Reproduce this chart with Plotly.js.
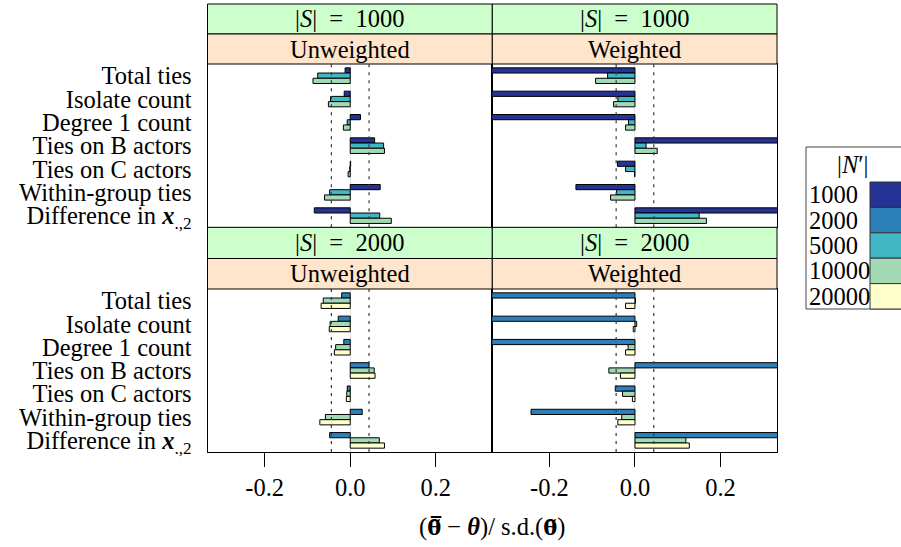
<!DOCTYPE html>
<html>
<head>
<meta charset="utf-8">
<script src="https://cdn.plot.ly/plotly-3.0.1.min.js"></script>
<style>html,body{margin:0;padding:0;background:#fff;}#chart{width:901px;height:547px;}</style>
</head>
<body>
<div id="chart"></div>
<script>
// ---------------- data ----------------
const categories = ["Total ties","Isolate count","Degree 1 count","Ties on B actors","Ties on C actors","Within-group ties","Difference in x"];
const categoryLabels = ["Total ties","Isolate count","Degree 1 count","Ties on B actors","Ties on C actors","Within-group ties","Difference in <b><i>x</i></b><sub>.,2</sub>"];
const sizeLabels = ["1000","2000","5000","10000","20000"];
const stripOuter = ["|<i>S</i>|\u2002=\u20021000","|<i>S</i>|\u2002=\u20021000","|<i>S</i>|\u2002=\u20022000","|<i>S</i>|\u2002=\u20022000"];
const stripInner = ["Unweighted","Weighted","Unweighted","Weighted"];
const xTickVals = [-0.2, 0, 0.2];
const xTickText = ["-0.2","0.0","0.2"];
const refBand = [-0.044, 0.044];

// |S| = 1000, unweighted
const u1_n1000  = [-0.012,-0.014, 0.024, 0.057, 0.001, 0.070,-0.084];
const u1_n5000  = [-0.076,-0.046,-0.007, 0.078,-0.001,-0.048, 0.069];
const u1_n10000 = [-0.087,-0.051,-0.016, 0.080,-0.005,-0.060, 0.096];
// |S| = 1000, weighted
const w1_n1000  = [-0.52,-0.50,-0.48, 0.45,-0.041,-0.138, 0.40];
const w1_n5000  = [-0.064,-0.040,-0.015, 0.026,-0.022,-0.043, 0.150];
const w1_n10000 = [-0.092,-0.050,-0.022, 0.052,-0.001,-0.057, 0.167];
// |S| = 2000, unweighted
const u2_n2000  = [-0.020,-0.028,-0.015, 0.044,-0.007, 0.028,-0.048];
const u2_n10000 = [-0.063,-0.047,-0.034, 0.056,-0.008,-0.058, 0.068];
const u2_n20000 = [-0.068,-0.049,-0.037, 0.058,-0.009,-0.071, 0.080];
// |S| = 2000, weighted
const w2_n2000  = [-0.50,-0.49,-0.47, 0.42,-0.046,-0.243, 0.38];
const w2_n10000 = [ 0.001, 0.004,-0.016,-0.061,-0.029,-0.031, 0.119];
const w2_n20000 = [-0.022,-0.004,-0.022,-0.034,-0.006,-0.040, 0.127];

// ---------------- style ----------------
const colors = {"1000":"#253494","2000":"#2c7fb8","5000":"#41b6c4","10000":"#a1dab4","20000":"#ffffcc"};
const FONT = "'Liberation Serif', serif";
const FS = 24.5;
const W = 901, H = 547;
const X = p => p / W;
const Y = p => 1 - p / H;

const panelX = [[207.5, 492.3], [492.3, 777]];
const panelY = [[64, 227.3], [289, 452]];   // top panel, bottom panel (px)
const stripY = [[4, 34, 64], [227.3, 258.5, 289]];

function bar(vals, n, xa, ya) {
  return {type:"bar", orientation:"h", x: vals, y: categories, name: n,
    xaxis: xa, yaxis: ya, showlegend:false, hoverinfo:"x+y+name",
    marker:{color: colors[n], line:{color:"#000", width:1}}};
}

const data = [
  bar(u1_n1000,"1000","x","y"), bar(u1_n5000,"5000","x","y"), bar(u1_n10000,"10000","x","y"),
  bar(w1_n1000,"1000","x2","y2"), bar(w1_n5000,"5000","x2","y2"), bar(w1_n10000,"10000","x2","y2"),
  bar(u2_n2000,"2000","x3","y3"), bar(u2_n10000,"10000","x3","y3"), bar(u2_n20000,"20000","x3","y3"),
  bar(w2_n2000,"2000","x4","y4"), bar(w2_n10000,"10000","x4","y4"), bar(w2_n20000,"20000","x4","y4")
];

const xRange = [-0.3335, 0.332];
function xaxis(col, row, anchor) {
  const bottom = row === 1;
  return {domain:[X(panelX[col][0]), X(panelX[col][1])], anchor: anchor,
    range: xRange, showgrid:false, zeroline:true, zerolinecolor:"#e3e3e3", zerolinewidth:1,
    showline:true, mirror:true, linecolor:"#000", linewidth:1,
    tickvals: xTickVals, ticktext: xTickText, showticklabels: bottom,
    ticks: bottom ? "outside" : "", ticklen: 14, tickcolor:"#000", tickwidth:1,
    tickfont:{family:FONT, size:FS, color:"#000"}, fixedrange:true};
}
function yaxis(col, row, anchor) {
  const left = col === 0;
  return {domain:[Y(panelY[row][1]), Y(panelY[row][0])], anchor: anchor,
    type:"category", range:[6.5,-0.5], categoryorder:"array", categoryarray: categories,
    showgrid:false, zeroline:false,
    showline:true, mirror:true, linecolor:"#000", linewidth:1,
    tickvals: categories, ticktext: categoryLabels, showticklabels: left,
    ticks: left ? "outside" : "", ticklen: 10, tickcolor:"rgba(0,0,0,0)",
    tickfont:{family:FONT, size:FS, color:"#000"}, fixedrange:true};
}

const shapes = [];
const annotations = [];
// reference dotted lines
["x","x2","x3","x4"].forEach((xa, i) => {
  const ya = ["y","y2","y3","y4"][i];
  refBand.forEach(v => shapes.push({type:"line", xref:xa, yref:ya+" domain", x0:v, x1:v, y0:0, y1:1,
    layer:"above", line:{color:"#3a3a3a", width:1.2, dash:"3px,5px"}}));
});
// strips
for (let row = 0; row < 2; row++) {
  for (let col = 0; col < 2; col++) {
    const k = row * 2 + col;
    const [x0, x1] = panelX[col];
    const [s0, s1, s2] = stripY[row];
    shapes.push({type:"rect", xref:"paper", yref:"paper", x0:X(x0), x1:X(x1), y0:Y(s1), y1:Y(s0),
      fillcolor:"#ccffcc", line:{color:"#000", width:1}, layer:"above"});
    shapes.push({type:"rect", xref:"paper", yref:"paper", x0:X(x0), x1:X(x1), y0:Y(s2), y1:Y(s1),
      fillcolor:"#ffe5cc", line:{color:"#000", width:1}, layer:"above"});
    annotations.push({xref:"paper", yref:"paper", x:X((x0+x1)/2), y:Y((s0+s1)/2), text: stripOuter[k],
      showarrow:false, xanchor:"center", yanchor:"middle", font:{family:FONT, size:FS, color:"#000"}});
    annotations.push({xref:"paper", yref:"paper", x:X((x0+x1)/2), y:Y((s1+s2)/2), text: stripInner[k],
      showarrow:false, xanchor:"center", yanchor:"middle", font:{family:FONT, size:FS, color:"#000"}});
  }
}
// x title
const DJ = "font-family:'DejaVu Serif';font-size:21px";
annotations.push({xref:"paper", yref:"paper", x:X(492), y:Y(527),
  text:"(<span style=\"" + DJ + "\"><b>θ\u0303\u0305</b></span> − <b><i>θ</i></b>)/ s.d.(<span style=\"" + DJ + "\"><b>θ\u0303</b></span>)",
  showarrow:false, xanchor:"center", yanchor:"middle", font:{family:FONT, size:FS, color:"#000"}});

// legend (key)
const keyLeft = 806, keyTop = 147, keyTitleBottom = 182, rowH = 25.4, swLeft = 870, keyRight = 960;
shapes.push({type:"rect", xref:"paper", yref:"paper", x0:X(keyLeft), x1:X(keyRight),
  y0:Y(keyTitleBottom + rowH * sizeLabels.length), y1:Y(keyTop), line:{color:"#444", width:1}, fillcolor:"rgba(0,0,0,0)"});
annotations.push({xref:"paper", yref:"paper", x:X(853), y:Y((keyTop+keyTitleBottom)/2), text:"|<i>N</i>′|",
  showarrow:false, xanchor:"center", yanchor:"middle", font:{family:FONT, size:FS, color:"#000"}});
sizeLabels.forEach((s, i) => {
  const t = keyTitleBottom + i * rowH;
  shapes.push({type:"rect", xref:"paper", yref:"paper", x0:X(swLeft), x1:X(keyRight), y0:Y(t+rowH), y1:Y(t),
    fillcolor: colors[s], line:{color:"#333", width:1}});
  annotations.push({xref:"paper", yref:"paper", x:X(keyLeft+1), y:Y(t + rowH/2), text:s,
    showarrow:false, xanchor:"left", yanchor:"middle", font:{family:FONT, size:FS, color:"#000"}});
});

const layout = {
  width: W, height: H, margin:{l:0, r:0, t:0, b:0},
  paper_bgcolor:"#fff", plot_bgcolor:"#fff",
  barmode:"group", bargap:0.33, bargroupgap:0,
  showlegend:false,
  font:{family:FONT, size:FS, color:"#000"},
  xaxis: xaxis(0,0,"y"), yaxis: yaxis(0,0,"x"),
  xaxis2: xaxis(1,0,"y2"), yaxis2: yaxis(1,0,"x2"),
  xaxis3: xaxis(0,1,"y3"), yaxis3: yaxis(0,1,"x3"),
  xaxis4: xaxis(1,1,"y4"), yaxis4: yaxis(1,1,"x4"),
  shapes, annotations
};

Plotly.newPlot("chart", data, layout, {staticPlot:true, displayModeBar:false});
</script>
</body>
</html>
